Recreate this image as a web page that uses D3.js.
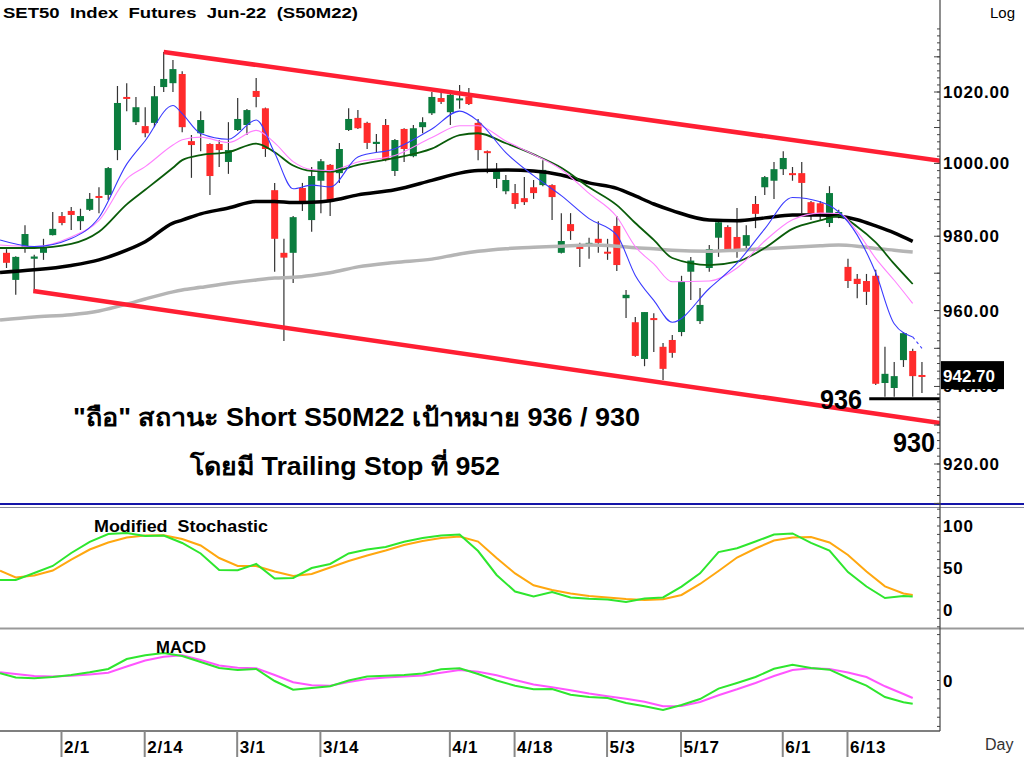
<!DOCTYPE html>
<html>
<head>
<meta charset="utf-8">
<script src="https://cdn.jsdelivr.net/npm/d3@7"></script>
<style>
  body { margin: 0; background: #fff; }
  svg text { font-family: "Liberation Sans", Arial, sans-serif; }
</style>
</head>
<body>
<script>
// ---- data ----
var ohlcOpen = [975.5,968.2,976.8,973.9,975.5,980.3,985.5,986.9,984.1,987.2,
  991.0,991.3,1003.7,1018.6,1011.5,1010.4,1011.3,1021.4,1022.5,1025.1,
  1006.2,1008.4,1005.4,1005.4,1000.4,1009.3,1010.7,1020.3,1015.4,992.6,
  975.5,975.5,993.2,984.4,995.2,999.6,997.3,1009.3,1012.7,1011.3,
  1005.4,1010.7,997.9,1009.6,1002.0,1010.1,1014.0,1018.3,1014.3,1018.0,
  1018.7,1011.3,1003.4,995.7,992.3,991.8,990.4,993.4,994.0,994.0,
  975.5,983.3,977.1,977.6,979.3,975.8,982.8,963.3,956.9,947.2,
  958.0,950.4,952.2,954.3,970.4,957.2,971.4,979.6,982.5,979.8,
  977.4,988.8,993.4,995.2,998.4,997.3,997.3,989.3,989.0,983.6,
  985.8,971.7,968.5,967.9,969.3,940.9,939.6,946.9,949.3,943.0];
var ohlcHigh = [976.5,974.6,983.0,975.0,979.3,986.6,986.6,988.0,987.5,991.8,
  993.4,999.0,1021.7,1022.5,1018.6,1015.7,1021.7,1031.4,1029.1,1025.9,
  1007.9,1014.6,1005.6,1006.5,1011.5,1018.3,1015.2,1024.0,1015.6,994.6,
  979.3,985.5,994.6,999.0,1001.2,999.8,1005.7,1015.4,1014.9,1011.6,
  1008.2,1012.4,1006.8,1009.8,1010.7,1012.9,1020.0,1020.0,1019.7,1022.0,
  1021.1,1012.4,1003.6,1000.1,996.8,994.3,996.2,995.4,1000.9,994.2,
  986.3,986.3,978.2,979.6,984.1,979.3,985.5,965.5,958.3,959.6,
  959.3,951.4,953.5,969.3,974.4,966.0,977.6,984.4,983.0,987.7,
  983.0,991.0,996.5,1000.4,1003.4,999.0,1000.4,989.6,989.6,993.7,
  987.2,973.9,969.8,969.8,970.9,950.4,946.4,954.3,949.9,946.4];
var ohlcLow = [971.4,964.2,975.5,965.0,973.6,980.2,983.0,981.7,981.7,986.9,
  986.3,989.9,1000.9,1014.6,1010.7,1007.3,1010.1,1020.0,1020.0,1008.7,
  996.0,1003.4,991.3,999.0,997.1,1009.0,1007.9,1015.7,1001.8,970.4,
  951.9,967.4,986.9,981.2,986.3,985.5,994.6,1009.0,1009.6,1004.0,
  1003.1,1000.6,996.5,1000.4,1001.7,1008.4,1013.5,1016.6,1010.7,1015.3,
  1016.3,1000.9,997.3,993.2,991.5,987.5,988.5,990.2,993.7,984.4,
  975.3,979.0,971.7,973.9,975.5,973.6,970.6,958.0,947.8,945.3,
  949.0,941.7,947.5,953.2,962.8,956.4,970.4,974.4,975.8,974.2,
  976.8,982.2,991.3,990.2,996.8,995.2,986.3,984.4,984.4,982.5,
  984.9,966.0,963.3,961.5,940.4,937.3,937.3,945.1,937.3,938.3];
var ohlcClose = [972.8,974.4,980.6,974.5,976.8,982.0,983.6,985.8,985.5,990.2,
  990.7,998.7,1016.9,1018.3,1015.7,1008.4,1018.8,1023.7,1026.5,1010.1,
  1005.1,1012.1,996.5,1003.7,1003.7,1012.4,1014.9,1018.6,1004.0,979.3,
  974.2,985.2,989.3,996.5,1000.6,989.6,1004.0,1012.4,1009.8,1005.7,
  1006.0,1000.9,1006.5,1004.0,1009.8,1011.5,1018.6,1017.2,1019.2,1018.2,
  1016.6,1003.7,1003.1,997.9,995.4,988.8,989.3,991.8,998.2,990.7,
  978.7,981.4,976.8,978.2,978.2,975.3,972.2,964.2,948.0,959.6,
  957.7,944.6,948.8,967.9,973.4,961.5,976.5,983.8,976.3,976.3,
  980.3,986.1,996.2,998.4,1001.5,996.8,994.6,986.3,986.3,991.8,
  986.6,967.9,967.1,965.0,940.7,943.3,942.7,954.0,942.7,942.7];

// moving averages, sampled at these bar positions
var maIdx = [-0.7,3,7,10,13,15,18,19,21,24,27,29,31,33,35,38,42,46,49,51,
  54,57,60,63,66,68,70,72,76,79,82,85,88,90,92,94,96,98];
var ma5 = [979.0,977.2,979.4,985.1,999.8,1006.3,1016.2,1013.9,1008.3,1006.7,
  1012.1,1002.9,993.0,994.0,993.5,1001.8,1004.1,1009.6,1014.6,1011.8,
  1003.0,996.6,991.1,984.8,980.3,969.4,962.7,956.9,965.9,972.7,
  982.0,990.6,989.4,986.6,980.3,970.1,956.5,953.0];
var ma5Tail = [[98,953.0],[99,950.0]];
var ma10 = [977.6,977.2,979.8,984.3,995.7,999.1,1005.1,1006.6,1007.3,1005.8,
  1009.2,1005.7,1000.5,998.3,998.0,1000.4,1002.2,1007.2,1010.5,1010.5,
  1006.2,1002.5,998.3,991.7,985.3,977.2,972.5,967.7,967.9,971.4,
  978.7,984.5,986.3,986.2,981.2,974.0,968.1,961.9];
var ma25 = [976.8,976.8,977.9,981.2,988.7,992.7,998.8,1000.9,1002.3,1003.1,
  1005.5,1003.1,999.4,997.9,997.7,999.6,1001.5,1004.1,1007.9,1008.4,
  1005.6,1002.5,998.8,993.4,988.5,983.6,979.0,974.1,972.2,973.1,
  976.8,982.0,984.3,985.5,982.6,978.3,972.5,967.1];
var ma75 = [970.2,970.9,972.1,973.6,976.2,978.5,983.6,984.4,986.1,987.7,
  989.5,989.5,989.2,989.3,989.7,991.3,992.7,995.3,997.3,998.0,
  998.2,997.9,996.8,994.6,993.1,991.0,988.8,987.0,984.4,984.2,
  985.0,985.8,985.8,985.5,984.5,982.8,980.9,978.6];
var ma200 = [957.5,958.3,958.9,959.9,961.7,963.1,965.0,965.5,966.2,967.3,
  968.2,968.7,968.9,969.4,970.1,971.7,972.9,973.8,975.2,975.9,
  976.6,977.0,977.3,977.6,977.3,976.9,976.6,976.2,975.9,976.2,
  976.6,977.0,977.4,977.6,977.3,976.7,976.2,975.7];

// channel and targets
var channelUpper = [[17, 1031.4], [101, 1000.7]];
var channelLower = [[2.9, 965.2], [101, 930.5]];
var target1 = 936.8;

// oscillators, sampled at these bar positions
var oscIdx = [-0.7,1,3,5,7,9,11,13,15,17,19,21,23,25,27,29,31,33,35,37,
  39,41,43,45,47,49,51,53,55,57,59,61,63,65,67,69,71,73,75,77,
  79,81,83,85,87,89,91,93,95,97,98];
var stochK = [35.7,35.7,44.0,52.4,67.9,81.2,90.5,91.7,88.1,88.7,
  79.8,67.3,47.6,47.4,54.8,37.5,38.1,50.0,54.8,67.3,
  72.0,75.0,81.3,85.7,88.7,89.9,70.2,41.7,22.0,16.1,
  21.4,14.9,13.3,12.4,9.5,13.7,14.9,27.9,43.7,69.0,
  73.5,81.5,89.9,91.1,80.0,70.8,45.2,28.0,14.3,16.7,16.1];
var stochD = [46.8,38.7,41.1,47.0,60.1,72.0,80.4,86.3,88.7,89.0,
  84.5,76.8,61.9,52.4,52.4,45.8,40.5,42.9,50.6,58.3,
  64.9,70.8,77.4,82.1,85.7,87.5,81.5,61.9,43.5,29.4,
  23.8,19.6,16.7,14.9,13.1,11.9,12.7,17.9,31.0,46.4,
  62.5,73.2,82.7,86.3,86.9,80.4,65.5,45.8,28.2,19.6,17.9];
var macdLine = [1.57,0.65,0.48,0.76,1.20,1.79,2.51,4.68,5.49,5.99,
  5.34,4.03,2.72,2.29,2.51,-0.11,-2.00,-1.63,-1.24,0,
  0.87,1.02,1.20,1.53,2.46,2.66,1.42,0,-1.13,-1.92,
  -1.85,-3.09,-3.59,-3.81,-4.90,-5.62,-6.43,-5.34,-4.03,-1.76,
  -0.54,0.76,2.55,3.42,2.72,2.35,0.54,-1.11,-3.59,-4.73,-5.08];
var macdSignal = [1.79,1.42,0.98,0.85,1.02,1.31,1.68,3.05,4.34,5.16,
  5.49,4.47,3.27,2.77,2.68,1.20,-0.37,-1.05,-1.15,-0.33,
  0.33,0.65,0.87,1.09,1.70,2.29,1.90,1.13,0.11,-0.85,
  -1.46,-2.14,-2.85,-3.42,-3.97,-4.63,-5.62,-5.53,-4.68,-3.20,
  -1.92,-0.54,0.98,2.29,2.66,2.51,1.74,0.76,-1.26,-2.94,-3.81];

var tickIdx = [6, 15, 25, 34, 48, 55, 65, 73, 84, 91];
var tickLabels = ['2/1','2/14','3/1','3/14','4/1','4/18','5/3','5/17','6/1','6/13'];
var priceTicks = [1020, 1000, 980, 960, 940, 920];
var stochTicks = [100, 50, 0];
var macdTicks = [0];
var lastPrice = 942.70;

// ---- layout ----
var W = 1024, H = 757, axisX = 940;
var mainTop = 0, mainBot = 503;
var stTop = 508, stBot = 628;
var mdTop = 630, mdBot = 731;

var svg = d3.select('body').append('svg')
  .attr('width', W)
  .attr('height', H);

var x = d3.scaleLinear().domain([0, 99]).range([6.5, 6.5 + 9.247 * 99]);
var y = d3.scaleLog().domain([920, 1020]).range([464, 92]);
var yS = d3.scaleLinear().domain([0, 100]).range([610, 526]);
var yM = d3.scaleLinear().domain([-11, 11]).range([731, 630]);

var defs = svg.append('defs');
function clip(id, y0, y1) {
  defs.append('clipPath').attr('id', id).append('rect')
    .attr('x', 0).attr('y', y0).attr('width', axisX).attr('height', y1 - y0);
}
clip('cMain', mainTop, mainBot);
clip('cSt', stTop, stBot);
clip('cMd', mdTop, mdBot);

var gMain = svg.append('g').attr('clip-path', 'url(#cMain)');
var gSt = svg.append('g').attr('clip-path', 'url(#cSt)');
var gMd = svg.append('g').attr('clip-path', 'url(#cMd)');

// candles
var bars = d3.range(ohlcOpen.length).map(function(i) {
  return {i: i, o: ohlcOpen[i], h: ohlcHigh[i], l: ohlcLow[i], c: ohlcClose[i]};
});
var cUp = '#0b7d3e', cDn = '#ff2b2b';

gMain.selectAll('line.wick')
  .data(bars)
  .enter()
  .append('line')
  .attr('x1', function(d) {return x(d.i);})
  .attr('x2', function(d) {return x(d.i);})
  .attr('y1', function(d) {return y(d.h);})
  .attr('y2', function(d) {return y(d.l);})
  .attr('stroke', '#333')
  .attr('stroke-width', 1.2);

gMain.selectAll('rect.body')
  .data(bars)
  .enter()
  .append('rect')
  .attr('x', function(d) {return x(d.i) - 3.5;})
  .attr('width', 7)
  .attr('y', function(d) {return y(Math.max(d.o, d.c));})
  .attr('height', function(d) {return Math.max(2, y(Math.min(d.o, d.c)) - y(Math.max(d.o, d.c)));})
  .attr('fill', function(d) {return d.c >= d.o ? cUp : cDn;});

// moving averages
function maLine(vals, idx) {
  return d3.line()
    .x(function(d, k) {return x(idx[k]);})
    .y(function(d) {return y(d);})
    .curve(d3.curveMonotoneX)(vals);
}
gMain.append('path').attr('d', maLine(ma200, maIdx))
  .attr('fill', 'none').attr('stroke', '#b5b5b5').attr('stroke-width', 3.5);
gMain.append('path').attr('d', maLine(ma75, maIdx))
  .attr('fill', 'none').attr('stroke', '#000').attr('stroke-width', 3.5);
gMain.append('path').attr('d', maLine(ma25, maIdx))
  .attr('fill', 'none').attr('stroke', '#0a5c0a').attr('stroke-width', 1.8);
gMain.append('path').attr('d', maLine(ma10, maIdx))
  .attr('fill', 'none').attr('stroke', '#ff80ff').attr('stroke-width', 1.1);
gMain.append('path').attr('d', maLine(ma5, maIdx))
  .attr('fill', 'none').attr('stroke', '#3a3aff').attr('stroke-width', 1.1);
gMain.append('path')
  .attr('d', d3.line().x(function(d) {return x(d[0]);}).y(function(d) {return y(d[1]);})(ma5Tail))
  .attr('fill', 'none').attr('stroke', '#3a3aff').attr('stroke-width', 1.1)
  .attr('stroke-dasharray', '3,3');

// channel
var segLine = d3.line().x(function(d) {return x(d[0]);}).y(function(d) {return y(d[1]);});
[channelUpper, channelLower].forEach(function(seg) {
  gMain.append('path').attr('d', segLine(seg))
    .attr('fill', 'none').attr('stroke', '#ff1f33').attr('stroke-width', 4.5);
});

// target line 936
svg.append('line')
  .attr('x1', x(93.3)).attr('x2', axisX)
  .attr('y1', y(target1)).attr('y2', y(target1))
  .attr('stroke', '#000').attr('stroke-width', 3);

// oscillators
function oscLine(vals, scale) {
  return d3.line()
    .x(function(d, k) {return x(oscIdx[k]);})
    .y(function(d) {return scale(d);})(vals);
}
gSt.append('path').attr('d', oscLine(stochD, yS))
  .attr('fill', 'none').attr('stroke', '#ffa70f').attr('stroke-width', 2);
gSt.append('path').attr('d', oscLine(stochK, yS))
  .attr('fill', 'none').attr('stroke', '#2ee62e').attr('stroke-width', 2);
gMd.append('path').attr('d', oscLine(macdSignal, yM))
  .attr('fill', 'none').attr('stroke', '#ff55ff').attr('stroke-width', 2);
gMd.append('path').attr('d', oscLine(macdLine, yM))
  .attr('fill', 'none').attr('stroke', '#2ee62e').attr('stroke-width', 2);

// frame lines
svg.append('line').attr('x1', 0).attr('x2', W).attr('y1', 504).attr('y2', 504)
  .attr('stroke', '#1414a8').attr('stroke-width', 2);
svg.append('line').attr('x1', 0).attr('x2', W).attr('y1', 507.5).attr('y2', 507.5)
  .attr('stroke', '#8a8a9a').attr('stroke-width', 1.2);
svg.append('line').attr('x1', 0).attr('x2', W).attr('y1', 628.5).attr('y2', 628.5)
  .attr('stroke', '#999').attr('stroke-width', 2);
svg.append('line').attr('x1', 0).attr('x2', axisX).attr('y1', 731).attr('y2', 731)
  .attr('stroke', '#555').attr('stroke-width', 1.5);
svg.append('line').attr('x1', axisX).attr('x2', axisX).attr('y1', 0).attr('y2', 731)
  .attr('stroke', '#444').attr('stroke-width', 1.2);

// ticks on the right axis (left side of the line)
function ticks(vals, scale, len) {
  svg.append('g').selectAll('line').data(vals).enter().append('line')
    .attr('x1', axisX - len).attr('x2', axisX)
    .attr('y1', function(d) {return scale(d);}).attr('y2', function(d) {return scale(d);})
    .attr('stroke', '#444').attr('stroke-width', 1);
}
ticks(d3.range(910, 1040, 2), y, 3);
ticks(d3.range(910, 1040, 10), y, 6);
ticks(d3.range(-20, 121, 10), yS, 3);
ticks(d3.range(-10, 11, 2), yM, 3);

// axis labels
function axisLabels(vals, scale, fmt) {
  svg.append('g').selectAll('text').data(vals).enter().append('text')
    .attr('x', 943).attr('y', function(d) {return scale(d) + 6;})
    .attr('font-size', 17).attr('font-weight', 'bold')
    .attr('letter-spacing', 0.8)
    .text(fmt);
}
axisLabels(priceTicks, y, function(d) {return d.toFixed(2);});
axisLabels(stochTicks, yS, function(d) {return d;});
axisLabels(macdTicks, yM, function(d) {return d;});

// last price box
svg.append('rect').attr('x', 941).attr('y', y(lastPrice) - 15)
  .attr('width', 63).attr('height', 28).attr('fill', '#000');
svg.append('text').attr('x', 943).attr('y', y(lastPrice) + 6)
  .attr('font-size', 17).attr('font-weight', 'bold').attr('fill', '#fff')
  .text(lastPrice.toFixed(2));

// date axis
svg.selectAll('line.xt').data(tickIdx).enter().append('line')
  .attr('x1', function(d) {return x(d) - 0.5;}).attr('x2', function(d) {return x(d) - 0.5;})
  .attr('y1', 731).attr('y2', H)
  .attr('stroke', '#888').attr('stroke-width', 2);
svg.selectAll('text.xl').data(tickIdx).enter().append('text')
  .attr('x', function(d) {return x(d) + 2;}).attr('y', 753)
  .attr('font-size', 17).attr('font-weight', 'bold')
  .attr('letter-spacing', 0.8)
  .text(function(d, k) {return tickLabels[k];});
svg.append('text').attr('x', 985).attr('y', 750)
  .attr('font-size', 16).attr('fill', '#333').text('Day');

// titles
svg.append('text').attr('x', 3).attr('y', 18)
  .attr('font-size', 15.5).attr('font-weight', 'bold')
  .attr('textLength', 355).attr('lengthAdjust', 'spacingAndGlyphs')
  .style('white-space', 'pre')
  .text('SET50  Index  Futures  Jun-22  (S50M22)');
svg.append('text').attr('x', 990).attr('y', 18)
  .attr('font-size', 15).text('Log');
svg.append('text').attr('x', 94).attr('y', 531.5)
  .attr('font-size', 16).attr('font-weight', 'bold')
  .attr('textLength', 174).attr('lengthAdjust', 'spacingAndGlyphs')
  .style('white-space', 'pre')
  .text('Modified  Stochastic');
svg.append('text').attr('x', 156).attr('y', 652.5)
  .attr('font-size', 16.5).attr('font-weight', 'bold')
  .attr('textLength', 50).attr('lengthAdjust', 'spacingAndGlyphs')
  .text('MACD');

// annotation
svg.append('text').attr('x', 820).attr('y', 409)
  .attr('font-size', 28).attr('font-weight', 'bold')
  .attr('textLength', 42).attr('lengthAdjust', 'spacingAndGlyphs')
  .text('936');
svg.append('text').attr('x', 893).attr('y', 452)
  .attr('font-size', 28).attr('font-weight', 'bold')
  .attr('textLength', 42).attr('lengthAdjust', 'spacingAndGlyphs')
  .text('930');
svg.append('text').attr('x', 73).attr('y', 426)
  .attr('font-size', 25).attr('font-weight', 'bold')
  .attr('textLength', 567).attr('lengthAdjust', 'spacingAndGlyphs')
  .text('"ถือ" สถานะ Short S50M22 เป้าหมาย 936 / 930');
svg.append('text').attr('x', 190).attr('y', 475)
  .attr('font-size', 25).attr('font-weight', 'bold')
  .attr('textLength', 310).attr('lengthAdjust', 'spacingAndGlyphs')
  .text('โดยมี Trailing Stop ที่ 952');
</script>
</body>
</html>
